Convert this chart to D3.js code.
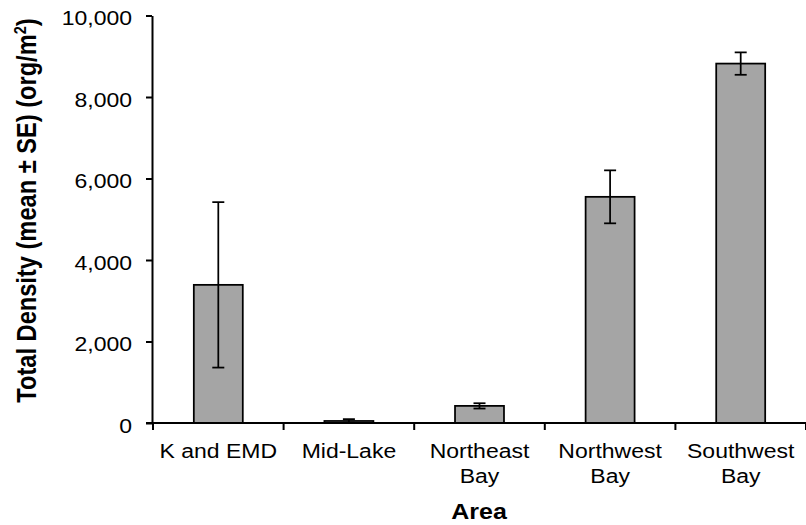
<!DOCTYPE html>
<html>
<head>
<meta charset="utf-8">
<script src="https://cdnjs.cloudflare.com/ajax/libs/d3/7.8.5/d3.min.js"></script>
<style>
    html, body { margin: 0; padding: 0; background: #fff; }
    svg { display: block; font-family: "Liberation Sans", Arial, sans-serif; }
</style>
</head>
<body>
<div id="chart"></div>
<script>
// Data
const areas = ["K and EMD", "Mid-Lake", "Northeast Bay", "Northwest Bay", "Southwest Bay"];
const areaLines = [["K and EMD"], ["Mid-Lake"], ["Northeast", "Bay"], ["Northwest", "Bay"], ["Southwest", "Bay"]];
const meanDensity = [3390, 50, 420, 5550, 8820];
const seDensity = [2030, 45, 65, 650, 275];
const yTicks = [0, 2000, 4000, 6000, 8000, 10000];

// Layout
const W = 806, H = 525;
const plot = { left: 152, right: 806, top: 15.5, bottom: 423 };
const squash = 0.86; // text in the reference is a bit flattened vertically

const svg = d3.select('#chart')
    .append('svg')
    .attr('width', W)
    .attr('height', H);

const x = d3.scaleBand()
    .domain(areas)
    .range([plot.left + 1, plot.right])
    .padding(0);

const y = d3.scaleLinear()
    .domain([0, 10000])
    .range([plot.bottom, plot.top]);

const barW = x.bandwidth() * 0.375;

// Bars
svg.append('g')
    .selectAll('rect')
    .data(areas)
    .enter()
    .append('rect')
    .attr('x', d => x(d) + x.bandwidth() / 2 - barW / 2)
    .attr('y', (d, i) => y(meanDensity[i]))
    .attr('width', barW)
    .attr('height', (d, i) => y(0) - y(meanDensity[i]))
    .attr('fill', '#a5a5a5')
    .attr('stroke', '#000')
    .attr('stroke-width', 1.75);

// Error bars
const err = svg.append('g')
    .attr('stroke', '#000')
    .attr('stroke-width', 1.75);

areas.forEach((a, i) => {
    const cx = x(a) + x.bandwidth() / 2;
    const hi = y(meanDensity[i] + seDensity[i]);
    const lo = y(Math.max(0, meanDensity[i] - seDensity[i]));
    err.append('line').attr('x1', cx).attr('x2', cx).attr('y1', hi).attr('y2', lo);
    err.append('line').attr('x1', cx - 6).attr('x2', cx + 6).attr('y1', hi).attr('y2', hi);
    err.append('line').attr('x1', cx - 6).attr('x2', cx + 6).attr('y1', lo).attr('y2', lo);
});

// Y axis
const yAxis = svg.append('g')
    .attr('transform', `translate(${plot.left},0)`)
    .call(d3.axisLeft(y)
        .tickValues(yTicks)
        .tickFormat(d3.format(','))
        .tickSize(6)
        .tickSizeOuter(0)
        .tickPadding(14));

yAxis.select('.domain').attr('stroke-width', 2);
yAxis.selectAll('.tick line').attr('stroke-width', 2);
yAxis.selectAll('.tick text')
    .attr('font-size', 23)
    .attr('font-family', '"Liberation Sans", Arial, sans-serif')
    .attr('fill', '#000')
    .attr('dy', '0.48em')
    .attr('transform', `scale(1,${squash})`);

// X axis line and category ticks at band edges
const xAxis = svg.append('g');
xAxis.append('line')
    .attr('x1', plot.left - 6)
    .attr('x2', plot.right)
    .attr('y1', plot.bottom)
    .attr('y2', plot.bottom)
    .attr('stroke', '#000')
    .attr('stroke-width', 2);

const edges = areas.map(a => x(a)).concat([x.range()[1]]);
xAxis.selectAll('.xtick')
    .data(edges)
    .enter()
    .append('line')
    .attr('class', 'xtick')
    .attr('x1', d => d)
    .attr('x2', d => d)
    .attr('y1', plot.bottom)
    .attr('y2', plot.bottom + 7)
    .attr('stroke', '#000')
    .attr('stroke-width', 2);

// Category labels (wrapped onto two lines like the original)
areas.forEach((a, i) => {
    const cx = x(a) + x.bandwidth() / 2;
    areaLines[i].forEach((line, j) => {
        svg.append('text')
            .attr('transform', `translate(${cx},${plot.bottom + 35 + j * 25}) scale(1,${squash})`)
            .attr('text-anchor', 'middle')
            .attr('font-size', 23)
            .attr('fill', '#000')
            .text(line);
    });
});

// Axis titles
svg.append('text')
    .attr('transform', `translate(${(plot.left + plot.right) / 2},519) scale(1,${squash})`)
    .attr('text-anchor', 'middle')
    .attr('font-size', 25)
    .attr('font-weight', 'bold')
    .attr('fill', '#000')
    .text('Area');

const yTitle = svg.append('text')
    .attr('transform', `translate(36,210.5) scale(1,${squash}) rotate(-90)`)
    .attr('text-anchor', 'middle')
    .attr('font-size', 27.5)
    .attr('font-weight', 'bold')
    .attr('fill', '#000');
yTitle.append('tspan').text('Total Density (mean ± SE) (org/m');
yTitle.append('tspan').attr('font-size', 17).attr('dy', -10).text('2');
yTitle.append('tspan').attr('dy', 10).text(')');
</script>
</body>
</html>
